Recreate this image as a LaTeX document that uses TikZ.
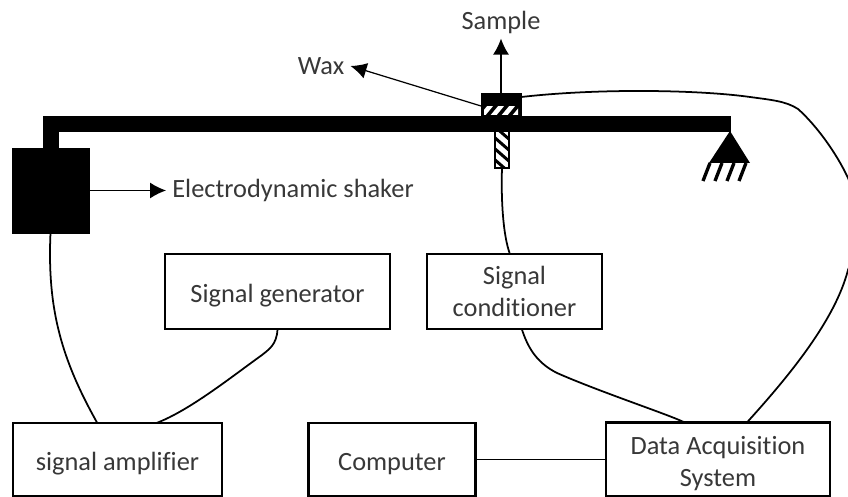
\documentclass[tikz,border=0pt]{standalone}
\usepackage{fontspec}
\setmainfont{Carlito}[Ligatures=NoCommon]
\usetikzlibrary{arrows.meta}
\definecolor{textgray}{gray}{0.22}
\tikzset{
  flowarrow/.style={-{Latex[length=3.2mm,width=3.2mm]}, line width=0.7pt},
  wire/.style={line width=1pt, line cap=round},
  blockbox/.style={draw, line width=1.2pt, fill=white, outer sep=0pt, minimum height=1.5cm, align=center, text=textgray, font=\fontsize{15}{18}\selectfont},
  oneline/.style={text height=15pt},
  solidbox/.style={draw, fill=black, outer sep=0pt, inner sep=0pt},
  hatchbox/.style={draw, line width=0.8pt, fill=white, outer sep=0pt, inner sep=0pt},
  partlabel/.style={text=textgray, font=\fontsize{15}{18}\selectfont, inner xsep=1.2mm, inner ysep=1mm}
}
\begin{document}
\begin{tikzpicture}[>=Latex]
  \useasboundingbox (0,0) rectangle (16.96,9.94);
  % beam and shaker
  \node[solidbox, minimum width=13.74cm, minimum height=0.3cm] (beam) at (7.73,7.47) {};
  \fill (0.86,7.62) rectangle (1.18,6.98);
  \node[solidbox, minimum width=1.54cm, minimum height=1.7cm] (shaker) at (1.01,6.13) {};
  % support
  \fill (14.6,7.32) -- (15.0,6.68) -- (14.18,6.68) -- cycle;
  \foreach \x in {14.2,14.44,14.68,14.92}
    \draw[line width=1.9pt] (\x,6.68) -- (\x-0.14,6.32);
  % sample, wax, sensor
  \node[solidbox, minimum width=0.8cm, minimum height=0.26cm] (sample) at (10.02,7.95) {};
  \node[solidbox, minimum width=0.8cm, minimum height=0.2cm] (wax) at (10.02,7.72) {};
  \begin{scope}
    \clip (9.68,7.64) rectangle (10.36,7.8);
    \foreach \x in {9.62,9.84,10.06,10.28}
      \draw[white, line width=2.6pt] (\x,7.6) -- (\x+0.2,7.84);
  \end{scope}
  \node[hatchbox, minimum width=0.28cm, minimum height=0.74cm] (sensor) at (10.04,6.95) {};
  \begin{scope}
    \clip (9.9,6.58) rectangle (10.18,7.32);
    \foreach \y in {6.62,6.84,7.06,7.28}
      \draw[line width=1.7pt] (9.88,\y+0.14) -- (10.2,\y-0.14);
  \end{scope}
  \node[hatchbox, fill=none, minimum width=0.28cm, minimum height=0.74cm] at (10.04,6.95) {};
  % blocks
  \node[blockbox, oneline, minimum width=4.5cm] (sg) at (5.55,4.11) {Signal generator};
  \node[blockbox, minimum width=3.5cm] (cond) at (10.29,4.11) {Signal\\ conditioner};
  \node[blockbox, oneline, minimum width=4.18cm, minimum height=1.46cm] (amp) at (2.35,0.75) {signal amplifier};
  \node[blockbox, oneline, minimum width=3.34cm, minimum height=1.46cm] (comp) at (7.84,0.75) {Computer};
  \node[blockbox, minimum width=4.48cm, minimum height=1.46cm] (daq) at (14.36,0.75) {\rule{0pt}{15pt}Data Acquisition\\ System};
  % labels
  \node[partlabel] (samplelabel) at (10.02,9.5) {Sample};
  \node[partlabel] (waxlabel) at (6.42,8.62) {Wax};
  \node[partlabel, anchor=west] (shakerlabel) at (3.32,6.13) {Electrodynamic shaker};
  \draw[flowarrow] (sample.north) -- (samplelabel.south);
  \draw[flowarrow] (wax.north west) -- (waxlabel.east);
  \draw[flowarrow] (shaker.east) -- (shakerlabel.west);
  % wires
  \draw[wire] (shaker.south) .. controls (0.94,3.74) and (1.24,2.74) .. (amp.119);
  \draw[wire] (sg.south) .. controls (5.54,3.04) and (5.36,2.94) .. (5.24,2.84) .. controls (4.6,2.38) and (3.8,1.74) .. (amp.43);
  \draw[wire] (sensor.south) .. controls (10.02,5.94) and (10.06,5.24) .. (cond.97);
  \draw[wire] (cond.-79) .. controls (10.54,3.04) and (10.7,2.7) .. (11.14,2.48) .. controls (12.0,2.1) and (13.4,1.64) .. (daq.132);
  \draw[wire] (comp) -- (daq);
  \draw[wire] (sample.7) .. controls (12,8.18) and (14,8.14) .. (15,8.0) .. controls (15.4,7.944) and (15.72,7.92) .. (15.96,7.76)
    .. controls (16.3,7.46) and (16.72,6.9) .. (16.96,6.38) .. controls (17.15,5.96) and (17.2,5.14) .. (16.96,4.54)
    .. controls (16.7,3.54) and (15.8,2.44) .. (daq.52);
\end{tikzpicture}
\end{document}
